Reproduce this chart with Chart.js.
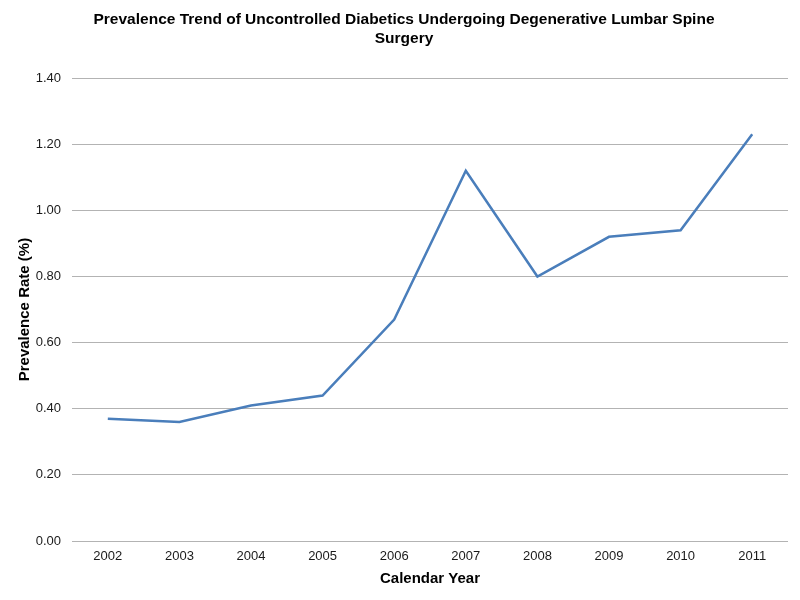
<!DOCTYPE html>
<html>
<head>
<meta charset="utf-8">
<script src="https://cdn.jsdelivr.net/npm/chart.js@4"></script>
<style>
  html, body { margin: 0; padding: 0; background: #fff; }
  #wrap { width: 800px; height: 600px; }
</style>
</head>
<body>
<div id="wrap"><canvas id="trend" width="800" height="600"></canvas></div>
<script>
// values
const years = ['2002', '2003', '2004', '2005', '2006', '2007', '2008', '2009', '2010', '2011'];
const prevalence = [0.37, 0.36, 0.41, 0.44, 0.67, 1.12, 0.80, 0.92, 0.94, 1.23];
const chartTitle = ['Prevalence Trend of Uncontrolled Diabetics Undergoing Degenerative Lumbar Spine', 'Surgery'];

const fontFamily = '"Liberation Sans", Arial, sans-serif';

const ctx = document.getElementById('trend').getContext('2d');
new Chart(ctx, {
  type: 'line',
  data: {
    labels: years,
    datasets: [{
      label: 'Prevalence Rate (%)',
      data: prevalence,
      borderColor: '#4a7ebb',
      borderWidth: 2.5,
      pointRadius: 0,
      tension: 0,
      fill: false
    }]
  },
  options: {
    responsive: false,
    animation: false,
    // left padding nudges the title to the right like the original
    layout: { padding: { left: 20, right: 12, top: 0, bottom: 0 } },
    plugins: {
      legend: { display: false },
      tooltip: { enabled: false },
      title: {
        display: true,
        text: chartTitle,
        color: '#000',
        font: { family: fontFamily, size: 15.5, weight: 'bold', lineHeight: 1.23 },
        padding: { top: 10, bottom: 30 }
      }
    },
    scales: {
      x: {
        offset: true,
        grid: { display: false, drawTicks: false },
        border: { display: false },
        ticks: { color: '#1a1a1a', font: { family: fontFamily, size: 13 }, padding: 8, maxRotation: 0 },
        title: {
          display: true,
          text: 'Calendar Year',
          color: '#000',
          font: { family: fontFamily, size: 15, weight: 'bold' },
          padding: { top: 4, bottom: 12 }
        },
        afterFit: (s) => { s.height = 59; }
      },
      y: {
        min: 0,
        max: 1.4,
        grid: { color: '#b3b3b3', lineWidth: 1, drawTicks: false },
        border: { display: false },
        ticks: {
          stepSize: 0.2,
          color: '#1a1a1a',
          font: { family: fontFamily, size: 13 },
          padding: 11,
          callback: (v) => Number(v).toFixed(2)
        },
        title: {
          display: true,
          text: 'Prevalence Rate (%)',
          color: '#000',
          font: { family: fontFamily, size: 15, weight: 'bold' },
          padding: { top: -4, bottom: 4 }
        },
        afterFit: (s) => { s.width = 52; }
      }
    }
  }
});
</script>
</body>
</html>
